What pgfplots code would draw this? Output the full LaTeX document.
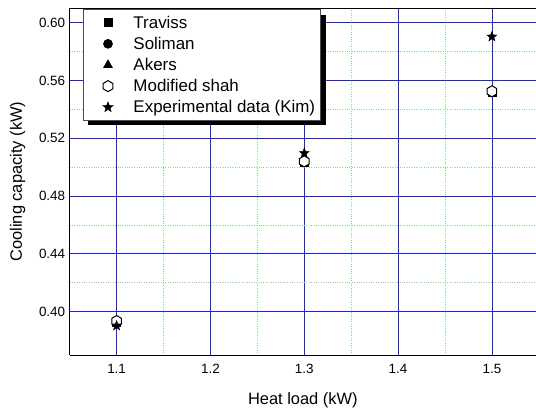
\documentclass[border=0pt]{standalone}
\usepackage{pgfplots}
\pgfplotsset{compat=1.18}
\usepackage{fontspec}
\setmainfont{Liberation Sans}

% open hexagon and filled five-pointed star marks
\pgfdeclareplotmark{hexagon}{%
  \pgfpathmoveto{\pgfqpointpolar{90}{\pgfplotmarksize}}%
  \pgfpathlineto{\pgfqpointpolar{150}{\pgfplotmarksize}}%
  \pgfpathlineto{\pgfqpointpolar{210}{\pgfplotmarksize}}%
  \pgfpathlineto{\pgfqpointpolar{270}{\pgfplotmarksize}}%
  \pgfpathlineto{\pgfqpointpolar{330}{\pgfplotmarksize}}%
  \pgfpathlineto{\pgfqpointpolar{30}{\pgfplotmarksize}}%
  \pgfpathclose
  \pgfusepathqfillstroke}
\pgfdeclareplotmark{fstar}{%
  \pgfpathmoveto{\pgfqpointpolar{90}{\pgfplotmarksize}}%
  \pgfpathlineto{\pgfqpointpolar{126}{0.42\pgfplotmarksize}}%
  \pgfpathlineto{\pgfqpointpolar{162}{\pgfplotmarksize}}%
  \pgfpathlineto{\pgfqpointpolar{198}{0.42\pgfplotmarksize}}%
  \pgfpathlineto{\pgfqpointpolar{234}{\pgfplotmarksize}}%
  \pgfpathlineto{\pgfqpointpolar{270}{0.42\pgfplotmarksize}}%
  \pgfpathlineto{\pgfqpointpolar{306}{\pgfplotmarksize}}%
  \pgfpathlineto{\pgfqpointpolar{342}{0.42\pgfplotmarksize}}%
  \pgfpathlineto{\pgfqpointpolar{18}{\pgfplotmarksize}}%
  \pgfpathlineto{\pgfqpointpolar{54}{0.42\pgfplotmarksize}}%
  \pgfpathclose
  \pgfusepathqfillstroke}

\definecolor{gridblue}{RGB}{30,30,255}
\definecolor{gridgreen}{RGB}{130,220,130}

\begin{document}
\begin{tikzpicture}
\begin{axis}[
  scale only axis,
  width=466.3bp, height=346.8bp,
  xmin=1.05, xmax=1.547,
  ymin=0.37, ymax=0.61,
  axis y line*=left,
  axis line style={line width=0.9bp, black},
  xtick={1.1,1.2,1.3,1.4,1.5},
  xticklabels={1.1,1.2,1.3,1.4,1.5},
  ytick={0.40,0.44,0.48,0.52,0.56,0.60},
  yticklabels={0.40,0.44,0.48,0.52,0.56,0.60},
  minor x tick num=1, minor y tick num=1,
  tick style={draw=none},
  grid=both,
  major grid style={gridblue, line width=0.8bp},
  minor grid style={gridgreen, dotted, line width=0.7bp},
  tick label style={font=\fontsize{13.5}{15}\selectfont},
  xticklabel style={yshift=-6bp},
  yticklabel style={xshift=-1bp},
  label style={font=\fontsize{16.5}{18}\selectfont},
  xlabel={Heat load (kW)},
  ylabel={Cooling capacity (kW)},
  xlabel style={yshift=-12bp},
  ylabel style={yshift=7bp},
  legend cell align={left},
  legend style={
    at={(13bp,345.5bp)}, anchor=north west,
    draw=black!70, line width=0.6bp, fill=white,
    font=\fontsize{17}{19}\selectfont,
    row sep=3.4bp, inner xsep=3.5bp, inner ysep=4bp,
    preaction={fill=black, transform canvas={xshift=5bp, yshift=-5bp}},
  },
  legend image code/.code={%
    \path (0bp,0bp) (44bp,0bp);
    \draw[#1] plot coordinates {(21bp,0bp)};},
]
\addplot[only marks, mark=square*, mark size=4bp, black] coordinates {
  (1.1,0.3925) (1.3,0.5035) (1.5,0.5520)
};
\addlegendentry{Traviss}
\addplot[only marks, mark=*, mark size=4.5bp, black] coordinates {
  (1.1,0.3925) (1.3,0.5040) (1.5,0.5525)
};
\addlegendentry{Soliman}
\addplot[only marks, mark=triangle*, mark size=5bp, black] coordinates {
  (1.1,0.3920) (1.3,0.5035) (1.5,0.5520)
};
\addlegendentry{Akers}
\addplot[only marks, mark=hexagon, mark size=5.5bp, black, fill=white, line width=1bp] coordinates {
  (1.1,0.3935) (1.3,0.5040) (1.5,0.5525)
};
\addlegendentry{Modified shah}
\addplot[only marks, mark=fstar, mark size=5.2bp, black] coordinates {
  (1.1,0.3903) (1.3,0.5097) (1.5,0.5903)
};
\addlegendentry{Experimental data (Kim)}
\end{axis}
\pgfresetboundingbox
\path[use as bounding box] (-69.7bp,-53bp) rectangle (466.3bp,355bp);
\end{tikzpicture}
\end{document}
